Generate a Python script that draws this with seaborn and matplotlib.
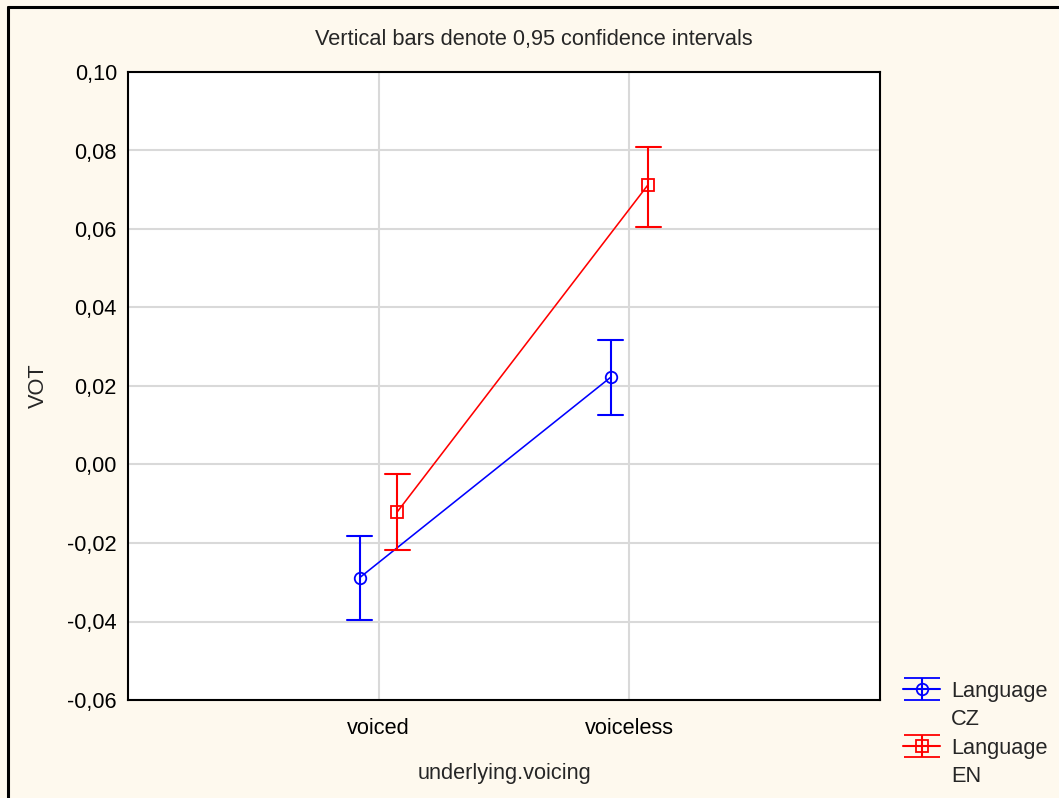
import numpy as np
import pandas as pd
import matplotlib
matplotlib.use("Agg")
import matplotlib.pyplot as plt
from matplotlib.lines import Line2D
import seaborn as sns

# ---- data ----
categories = ["voiced", "voiceless"]
languages = ["CZ", "EN"]
cz_mean = [-0.0288, 0.0222]
cz_low = [-0.0397, 0.0125]
cz_high = [-0.0183, 0.0316]
en_mean = [-0.0120, 0.0713]
en_low = [-0.0219, 0.0606]
en_high = [-0.0023, 0.0810]
y_ticks = [-0.06, -0.04, -0.02, 0.00, 0.02, 0.04, 0.06, 0.08, 0.10]
colors = {"CZ": "#0000FF", "EN": "#FF0000"}
markers = {"CZ": "o", "EN": "s"}

# long table: low / mean / high per cell -> median = mean, (min, max) = CI
rows = []
for lang, m, lo, hi in [("CZ", cz_mean, cz_low, cz_high), ("EN", en_mean, en_low, en_high)]:
    for c, mv, lv, hv in zip(categories, m, lo, hi):
        for v in (lv, mv, hv):
            rows.append({"underlying.voicing": c, "Language": lang, "VOT": v})
df = pd.DataFrame(rows)

sns.set_style("white")
plt.rcParams["font.family"] = ["Liberation Sans", "DejaVu Sans"]
FS = 15.7

BG = "#FEF9EE"
fig = plt.figure(figsize=(10.59, 7.98), dpi=100, facecolor=BG)
ax = fig.add_axes([128 / 1059, 1 - 700 / 798, (880 - 128) / 1059, (700 - 72) / 798])
ax.set_facecolor("white")

sns.pointplot(
    data=df, x="underlying.voicing", y="VOT", hue="Language",
    order=categories, hue_order=languages,
    estimator="median", errorbar=lambda v: (v.min(), v.max()),
    palette=colors, markers=[markers[l] for l in languages],
    linestyles=["-", "-"], dodge=0.15, capsize=0.1,
    linewidth=1.15, markersize=8.3, markeredgewidth=1.3,
    err_kws={"linewidth": 1.5}, legend=False, ax=ax,
)
for ln in ax.lines:
    if ln.get_marker() not in (None, "None", "", " "):
        ln.set_markerfacecolor("none")

ax.set_xlim(-1, 2)
ax.set_ylim(-0.06, 0.10)
ax.set_yticks(y_ticks)
ax.set_yticklabels([f"{v:.2f}".replace(".", ",") for v in y_ticks])
ax.grid(True, color="#D9D9D9", linewidth=1.5)
ax.set_axisbelow(True)
for s in ax.spines.values():
    s.set_visible(True)
    s.set_color("black")
    s.set_linewidth(1.5)
ax.tick_params(axis="both", direction="in", length=3, width=1, colors="black", labelsize=FS)
ax.tick_params(axis="y", pad=8)
ax.tick_params(axis="x", pad=13)
ax.set_xlabel("underlying.voicing", fontsize=FS, labelpad=17)
ax.set_ylabel("VOT", fontsize=FS, labelpad=13)

fig.text(534 / 1059, 1 - 39 / 798, "Vertical bars denote 0,95 confidence intervals",
         ha="center", va="center", fontsize=FS)

# legend with errorbar-style handles
handles, labels = [], []
blank = Line2D([], [], linestyle="none", marker=None)
for lang in languages:
    h = ax.errorbar([np.nan], [np.nan], yerr=[[np.nan], [np.nan]], color=colors[lang],
                    marker=markers[lang], mfc="none", ms=8.3, mew=1.3, lw=1.5,
                    elinewidth=1.5, capsize=13.3, capthick=1.5)
    handles += [h, blank]
    labels += ["Language", lang]
fig.legend(handles, labels, loc="upper left", bbox_to_anchor=(903 / 1059, 1 - 681 / 798),
           frameon=False, fontsize=FS, borderpad=0, borderaxespad=0,
           handlelength=1.7, handletextpad=0.5, labelspacing=0.34)

# figure frame (top and left)
fig.add_artist(Line2D([7.5 / 1059, 1], [1 - 6.5 / 798, 1 - 6.5 / 798],
                      transform=fig.transFigure, color="black", linewidth=2.2))
fig.add_artist(Line2D([7.5 / 1059, 7.5 / 1059], [0, 1 - 6.5 / 798],
                      transform=fig.transFigure, color="black", linewidth=2.2))

fig.savefig("out.png", dpi=100, facecolor=BG)
